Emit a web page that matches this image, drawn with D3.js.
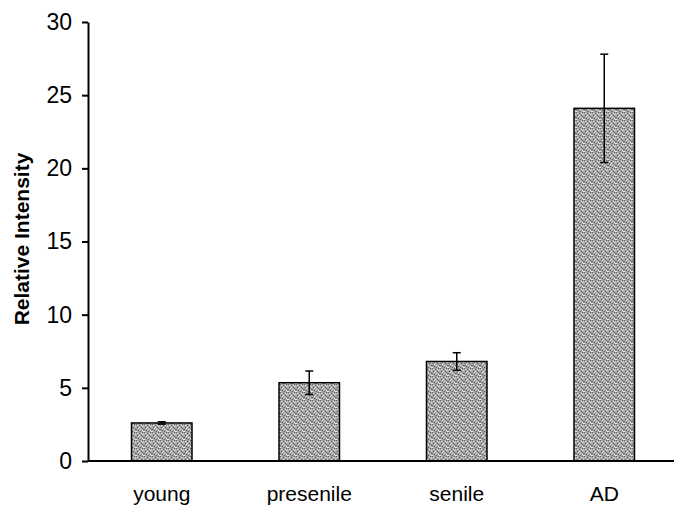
<!DOCTYPE html>
<html>
<head>
<meta charset="utf-8">
<script src="https://cdn.jsdelivr.net/npm/d3@7"></script>
<style>
  body { margin: 0; background: #fff; }
  svg { display: block; font-family: "Liberation Sans", Arial, sans-serif; }
</style>
</head>
<body>
<div id="chart"></div>
<script>
// data
const groups = ['young', 'presenile', 'senile', 'AD'];
const values = [2.6, 5.35, 6.8, 24.1];
const errors = [0.08, 0.8, 0.6, 3.7];
const yTicks = [0, 5, 10, 15, 20, 25, 30];

const width = 674;
const height = 509;
const marginLeft = 88;
const plotTop = 22;
const plotBottom = 461;

let svg = d3.select('#chart')
    .append('svg')
    .attr('width', width)
    .attr('height', height);

// stipple fill for the bars
const defs = svg.append('defs');
const pat = defs.append('pattern')
    .attr('id', 'stipple')
    .attr('patternUnits', 'userSpaceOnUse')
    .attr('width', 8)
    .attr('height', 8);
pat.append('rect').attr('width', 8).attr('height', 8).attr('fill', '#a4a4a4');
const dark = [[0, 0], [3, 1], [6, 0], [1, 3], [5, 3], [7, 5], [2, 6], [4, 7], [0, 5]];
const light = [[1, 1], [5, 1], [3, 3], [7, 2], [0, 7], [2, 4], [6, 6], [4, 5], [7, 7]];
dark.forEach(p => pat.append('rect').attr('x', p[0]).attr('y', p[1]).attr('width', 1).attr('height', 1).attr('fill', '#5e5e5e'));
light.forEach(p => pat.append('rect').attr('x', p[0]).attr('y', p[1]).attr('width', 1).attr('height', 1).attr('fill', '#ececec'));

const x = d3.scaleBand()
    .domain(groups)
    .range([marginLeft, 678])
    .paddingInner(0.59)
    .paddingOuter(0.295);

const y = d3.scaleLinear()
    .domain([0, 30])
    .range([plotBottom, plotTop]);

// bars
svg.append('g')
    .selectAll('rect')
    .data(groups)
    .join('rect')
    .attr('x', d => x(d))
    .attr('y', (d, i) => y(values[i]))
    .attr('width', x.bandwidth())
    .attr('height', (d, i) => y(0) - y(values[i]))
    .attr('fill', 'url(#stipple)')
    .attr('stroke', '#000')
    .attr('stroke-width', 1.5);

// error bars
const eb = svg.append('g').attr('stroke', '#000').attr('stroke-width', 1.5);
groups.forEach((g, i) => {
    const cx = x(g) + x.bandwidth() / 2;
    const hi = y(values[i] + errors[i]);
    const lo = y(values[i] - errors[i]);
    eb.append('line').attr('x1', cx).attr('x2', cx).attr('y1', hi).attr('y2', lo);
    eb.append('line').attr('x1', cx - 4).attr('x2', cx + 4).attr('y1', hi).attr('y2', hi);
    eb.append('line').attr('x1', cx - 4).attr('x2', cx + 4).attr('y1', lo).attr('y2', lo);
});

// y axis
const yAxis = d3.axisLeft(y).tickValues(yTicks).tickSize(6).tickSizeOuter(0).tickPadding(10);
const gy = svg.append('g')
    .attr('transform', 'translate(' + marginLeft + ',0)')
    .call(yAxis);
gy.select('.domain').attr('stroke', '#000').attr('stroke-width', 2);
gy.selectAll('.tick line').attr('stroke', '#000').attr('stroke-width', 2);
gy.selectAll('.tick text').attr('font-size', 23).attr('fill', '#000')
    .attr('font-family', '"Liberation Sans", Arial, sans-serif');

// x axis
const xAxis = d3.axisBottom(x).tickSize(0).tickPadding(25);
const gx = svg.append('g')
    .attr('transform', 'translate(0,' + plotBottom + ')')
    .call(xAxis);
gx.select('.domain').attr('d', 'M' + marginLeft + ',0H' + width).attr('stroke', '#000').attr('stroke-width', 2);
gx.selectAll('.tick text').attr('font-size', 21).attr('fill', '#000')
    .attr('font-family', '"Liberation Sans", Arial, sans-serif');

// y axis title
svg.append('text')
    .attr('transform', 'translate(29,' + 239 + ') rotate(-90)')
    .attr('text-anchor', 'middle')
    .attr('font-size', 21)
    .attr('font-weight', 'bold')
    .text('Relative Intensity');
</script>
</body>
</html>
